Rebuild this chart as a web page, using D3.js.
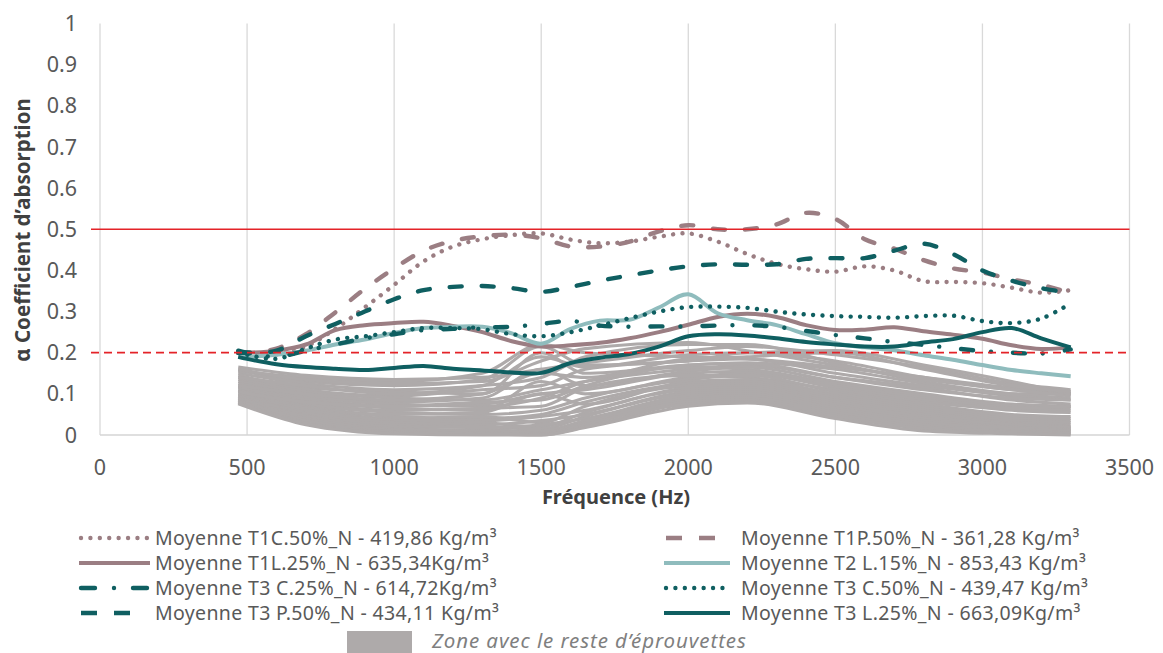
<!DOCTYPE html>
<html>
<head>
<meta charset="utf-8">
<script src="https://cdn.jsdelivr.net/npm/d3@7"></script>
<style>
  html, body { margin: 0; padding: 0; background: #ffffff; }
  svg { display: block; font-family: "Noto Sans", "Open Sans", sans-serif; }
</style>
</head>
<body>
<svg id="chart" width="1163" height="653"></svg>
<script>
// Frequencies (Hz) sampled for the averaged curves
const freqs = [470, 500, 600, 700, 800, 900, 1000, 1100, 1200, 1300, 1400, 1500, 1600, 1700, 1800,
               1900, 2000, 2100, 2200, 2300, 2400, 2500, 2600, 2700, 2800, 2900, 3000, 3100, 3200, 3300];

// Averaged absorption coefficients per specimen family
const t1c50 = [0.20, 0.20, 0.195, 0.215, 0.258, 0.31, 0.365, 0.422, 0.458, 0.476, 0.486, 0.49, 0.475, 0.466, 0.47,
               0.482, 0.49, 0.47, 0.44, 0.416, 0.403, 0.397, 0.41, 0.40, 0.374, 0.372, 0.369, 0.358, 0.346, 0.352];
const t1p50 = [0.20, 0.20, 0.21, 0.245, 0.298, 0.355, 0.405, 0.448, 0.472, 0.483, 0.487, 0.478, 0.458, 0.458, 0.47,
               0.495, 0.51, 0.50, 0.50, 0.512, 0.54, 0.525, 0.476, 0.453, 0.425, 0.405, 0.395, 0.378, 0.365, 0.345];
const t1l25 = [0.20, 0.20, 0.205, 0.22, 0.255, 0.267, 0.272, 0.275, 0.265, 0.25, 0.228, 0.215, 0.218, 0.224, 0.235,
               0.25, 0.268, 0.287, 0.295, 0.287, 0.267, 0.255, 0.256, 0.262, 0.252, 0.244, 0.234, 0.218, 0.209, 0.213];
const t2l15 = [0.19, 0.19, 0.195, 0.205, 0.22, 0.232, 0.248, 0.26, 0.263, 0.263, 0.247, 0.222, 0.258, 0.278, 0.28,
               0.31, 0.342, 0.296, 0.279, 0.267, 0.245, 0.223, 0.213, 0.206, 0.194, 0.183, 0.17, 0.158, 0.15, 0.143];
const t3c25 = [0.205, 0.20, 0.19, 0.205, 0.22, 0.235, 0.245, 0.255, 0.258, 0.262, 0.263, 0.27, 0.277, 0.266, 0.263,
               0.264, 0.264, 0.266, 0.267, 0.263, 0.253, 0.243, 0.235, 0.226, 0.219, 0.211, 0.204, 0.20, 0.198, 0.208];
const t3c50 = [0.20, 0.195, 0.185, 0.21, 0.232, 0.24, 0.25, 0.26, 0.26, 0.257, 0.245, 0.24, 0.25, 0.266, 0.284,
               0.30, 0.311, 0.312, 0.309, 0.30, 0.293, 0.289, 0.287, 0.285, 0.289, 0.29, 0.277, 0.272, 0.283, 0.32];
const t3p50 = [0.20, 0.20, 0.205, 0.24, 0.27, 0.30, 0.33, 0.352, 0.36, 0.362, 0.357, 0.348, 0.36, 0.375, 0.388,
               0.40, 0.41, 0.415, 0.414, 0.415, 0.428, 0.43, 0.43, 0.448, 0.465, 0.44, 0.40, 0.375, 0.357, 0.345];
const t3l25 = [0.19, 0.185, 0.172, 0.165, 0.161, 0.158, 0.163, 0.168, 0.161, 0.157, 0.152, 0.151, 0.175, 0.188, 0.197,
               0.215, 0.24, 0.245, 0.242, 0.235, 0.226, 0.22, 0.215, 0.215, 0.225, 0.233, 0.25, 0.26, 0.235, 0.213];

// Remaining specimens (grey zone), sampled on a coarser grid
const restFreqs = [470, 700, 1000, 1300, 1500, 1650, 2000, 2200, 2500, 2800, 3100, 3300];
const restCurves = [
  [0.165, 0.145, 0.135, 0.14, 0.16, 0.175, 0.205, 0.215, 0.195, 0.165, 0.125, 0.11],
  [0.158, 0.13, 0.12, 0.135, 0.215, 0.17, 0.18, 0.2, 0.18, 0.14, 0.11, 0.10],
  [0.15, 0.125, 0.11, 0.12, 0.14, 0.19, 0.22, 0.22, 0.175, 0.13, 0.10, 0.09],
  [0.145, 0.115, 0.105, 0.10, 0.20, 0.15, 0.17, 0.175, 0.16, 0.125, 0.095, 0.085],
  [0.14, 0.11, 0.095, 0.11, 0.12, 0.16, 0.18, 0.185, 0.15, 0.12, 0.10, 0.10],
  [0.135, 0.105, 0.09, 0.085, 0.11, 0.13, 0.16, 0.17, 0.14, 0.115, 0.085, 0.075],
  [0.13, 0.10, 0.08, 0.09, 0.16, 0.12, 0.155, 0.165, 0.13, 0.10, 0.075, 0.07],
  [0.125, 0.095, 0.075, 0.07, 0.09, 0.13, 0.165, 0.16, 0.125, 0.095, 0.07, 0.065],
  [0.12, 0.09, 0.07, 0.075, 0.10, 0.11, 0.15, 0.155, 0.12, 0.09, 0.065, 0.06],
  [0.118, 0.085, 0.065, 0.06, 0.13, 0.10, 0.14, 0.15, 0.115, 0.085, 0.06, 0.055],
  [0.115, 0.08, 0.06, 0.065, 0.07, 0.115, 0.145, 0.14, 0.11, 0.08, 0.065, 0.07],
  [0.11, 0.075, 0.055, 0.05, 0.06, 0.09, 0.135, 0.145, 0.105, 0.075, 0.05, 0.045],
  [0.108, 0.07, 0.05, 0.055, 0.10, 0.075, 0.13, 0.135, 0.10, 0.07, 0.045, 0.04],
  [0.105, 0.068, 0.045, 0.04, 0.05, 0.08, 0.125, 0.13, 0.095, 0.065, 0.04, 0.035],
  [0.10, 0.065, 0.04, 0.045, 0.03, 0.07, 0.12, 0.125, 0.09, 0.06, 0.035, 0.03],
  [0.098, 0.06, 0.038, 0.035, 0.045, 0.06, 0.115, 0.12, 0.085, 0.055, 0.03, 0.025],
  [0.095, 0.055, 0.035, 0.03, 0.02, 0.055, 0.11, 0.115, 0.08, 0.05, 0.028, 0.02],
  [0.093, 0.052, 0.03, 0.025, 0.035, 0.05, 0.105, 0.11, 0.075, 0.045, 0.025, 0.018],
  [0.09, 0.048, 0.025, 0.02, 0.015, 0.045, 0.10, 0.105, 0.07, 0.04, 0.02, 0.015],
  [0.088, 0.045, 0.02, 0.018, 0.025, 0.04, 0.095, 0.10, 0.065, 0.035, 0.018, 0.012],
  [0.085, 0.04, 0.015, 0.012, 0.01, 0.035, 0.09, 0.095, 0.06, 0.03, 0.015, 0.01],
  [0.083, 0.035, 0.012, 0.01, 0.005, 0.03, 0.085, 0.09, 0.055, 0.025, 0.01, 0.008],
  [0.08, 0.03, 0.008, 0.005, 0.002, 0.025, 0.08, 0.085, 0.05, 0.02, 0.008, 0.005],
  [0.078, 0.028, 0.005, 0.003, 0.0, 0.02, 0.075, 0.08, 0.045, 0.015, 0.005, 0.003],
  [0.076, 0.025, 0.003, 0.0, 0.0, 0.018, 0.07, 0.078, 0.04, 0.01, 0.003, 0.0],
  [0.155, 0.14, 0.13, 0.15, 0.22, 0.20, 0.19, 0.185, 0.165, 0.14, 0.115, 0.105],
  [0.16, 0.135, 0.125, 0.13, 0.18, 0.21, 0.225, 0.205, 0.17, 0.135, 0.11, 0.095],
  [0.14, 0.12, 0.10, 0.12, 0.19, 0.165, 0.195, 0.20, 0.205, 0.17, 0.13, 0.10],
  [0.12, 0.10, 0.085, 0.10, 0.15, 0.14, 0.185, 0.19, 0.20, 0.16, 0.12, 0.105],
  [0.105, 0.08, 0.07, 0.08, 0.085, 0.12, 0.17, 0.175, 0.14, 0.11, 0.09, 0.085]
];

// Axis ticks and reference thresholds
const xTicks = [0, 500, 1000, 1500, 2000, 2500, 3000, 3500];
const yTicks = [0, 0.1, 0.2, 0.3, 0.4, 0.5, 0.6, 0.7, 0.8, 0.9, 1];
const yTickLabels = ["0", "0.1", "0.2", "0.3", "0.4", "0.5", "0.6", "0.7", "0.8", "0.9", "1"];
const thresholdHigh = 0.5;
const thresholdLow = 0.2;

// Series labels (legend order: left column then right column)
const seriesNames = [
  "Moyenne T1C.50%_N - 419,86 Kg/m³",
  "Moyenne T1L.25%_N - 635,34Kg/m³",
  "Moyenne T3 C.25%_N - 614,72Kg/m³",
  "Moyenne T3 P.50%_N - 434,11 Kg/m³",
  "Moyenne T1P.50%_N - 361,28 Kg/m³",
  "Moyenne T2 L.15%_N - 853,43 Kg/m³",
  "Moyenne T3 C.50%_N - 439,47 Kg/m³",
  "Moyenne T3 L.25%_N - 663,09Kg/m³"
];
const seriesValues = [t1c50, t1l25, t3c25, t3p50, t1p50, t2l15, t3c50, t3l25];
const restLabel = "Zone avec le reste d’éprouvettes";

// ---- styling ----
const MAUVE = "#9b7e83", TEAL = "#0f5f61", LTEAL = "#8fbcbd", GREY = "#aeaaaa", RED = "#e42328";
const styles = [
  { color: MAUVE, dash: "0.01 9.4", cap: "round", w: 4.4 },
  { color: MAUVE, dash: null, cap: "butt", w: 4 },
  { color: TEAL, dash: "12 18 0.01 22", cap: "round", w: 4.4 },
  { color: TEAL, dash: "12 20", cap: "round", w: 4.4 },
  { color: MAUVE, dash: "12 20", cap: "round", w: 4.4 },
  { color: LTEAL, dash: null, cap: "butt", w: 4 },
  { color: TEAL, dash: "0.01 9.4", cap: "round", w: 4.4 },
  { color: TEAL, dash: null, cap: "butt", w: 4 }
];
// drawing order of the averaged curves (later on top)
const drawOrder = [0, 4, 1, 5, 2, 6, 3, 7];

const svg = d3.select("#chart");
const x = d3.scaleLinear().domain([0, 3500]).range([100, 1129.5]);
const y = d3.scaleLinear().domain([0, 1]).range([435, 23.6]);

// vertical gridlines
svg.append("g").selectAll("line").data(xTicks).join("line")
  .attr("x1", d => x(d)).attr("x2", d => x(d))
  .attr("y1", y(1)).attr("y2", y(0))
  .attr("stroke", "#d9d9d9").attr("stroke-width", 1.3);

// bottom axis line
svg.append("line")
  .attr("x1", x(0)).attr("x2", x(3500)).attr("y1", y(0)).attr("y2", y(0))
  .attr("stroke", "#d4d4d4").attr("stroke-width", 1.5);

// tick labels
svg.append("g").selectAll("text").data(xTicks).join("text")
  .attr("x", d => x(d)).attr("y", 475)
  .attr("text-anchor", "middle").attr("font-size", 21.5).attr("fill", "#595959")
  .text(d => d);
svg.append("g").selectAll("text").data(yTicks).join("text")
  .attr("x", 77).attr("y", d => y(d) + 7.5)
  .attr("text-anchor", "end").attr("font-size", 21.5).attr("fill", "#595959")
  .text((d, i) => yTickLabels[i]);

// axis titles
svg.append("text")
  .attr("transform", "translate(30,230) rotate(-90)")
  .attr("text-anchor", "middle").attr("font-size", 20.5).attr("font-weight", "bold")
  .attr("fill", "#404040").text("α Coefficient d’absorption");
svg.append("text")
  .attr("x", 616).attr("y", 504)
  .attr("text-anchor", "middle").attr("font-size", 20).attr("font-weight", "bold")
  .attr("fill", "#404040").text("Fréquence (Hz)");

// grey zone: other specimens
const restLine = d3.line().x((d, i) => x(restFreqs[i])).y(d => y(d)).curve(d3.curveMonotoneX);
svg.append("g").selectAll("path").data(restCurves).join("path")
  .attr("d", restLine)
  .attr("fill", "none").attr("stroke", GREY).attr("stroke-width", 3.1);

// averaged curves
const meanLine = d3.line().x((d, i) => x(freqs[i])).y(d => y(d)).curve(d3.curveCatmullRom.alpha(0.5));
svg.append("g").selectAll("path").data(drawOrder).join("path")
  .attr("d", k => meanLine(seriesValues[k]))
  .attr("fill", "none")
  .attr("stroke", k => styles[k].color)
  .attr("stroke-width", k => styles[k].w)
  .attr("stroke-linecap", k => styles[k].cap)
  .attr("stroke-dasharray", k => styles[k].dash);

// threshold lines
svg.append("line")
  .attr("x1", 91).attr("x2", x(3500)).attr("y1", y(thresholdHigh)).attr("y2", y(thresholdHigh))
  .attr("stroke", RED).attr("stroke-width", 1.6);
svg.append("line")
  .attr("x1", 91).attr("x2", x(3500)).attr("y1", y(thresholdLow)).attr("y2", y(thresholdLow))
  .attr("stroke", RED).attr("stroke-width", 1.8).attr("stroke-dasharray", "8 5");

// legend
const legendRows = [538, 563, 588, 613];
const legendCols = [{ x0: 79, x1: 150, tx: 155 }, { x0: 664, x1: 730, tx: 741 }];
const legendDash = ["0.01 9.4", null, "14 19 0.01 19", "16 17", "16 17", null, "0.01 9.4", null];
const leg = svg.append("g");
seriesNames.forEach((name, k) => {
  const col = legendCols[Math.floor(k / 4)];
  const ry = legendRows[k % 4];
  const st = styles[k];
  const dashed = legendDash[k] && legendDash[k].startsWith("16");
  leg.append("line")
    .attr("x1", col.x0 + (st.cap === "round" ? 2 : 0))
    .attr("x2", dashed ? col.x0 + 52 : col.x1)
    .attr("y1", ry).attr("y2", ry)
    .attr("stroke", st.color).attr("stroke-width", st.w)
    .attr("stroke-linecap", dashed ? "butt" : st.cap)
    .attr("stroke-dasharray", legendDash[k]);
  leg.append("text")
    .attr("x", col.tx).attr("y", ry + 6.5)
    .attr("font-size", 19.5).attr("letter-spacing", 0.35).attr("fill", "#595959")
    .text(name);
});
leg.append("rect")
  .attr("x", 347).attr("y", 631).attr("width", 65).attr("height", 22)
  .attr("fill", GREY);
leg.append("text")
  .attr("x", 432).attr("y", 648)
  .attr("font-size", 20.5).attr("letter-spacing", 0.9).attr("font-style", "italic").attr("fill", "#7f7f7f")
  .text(restLabel);
</script>
</body>
</html>
